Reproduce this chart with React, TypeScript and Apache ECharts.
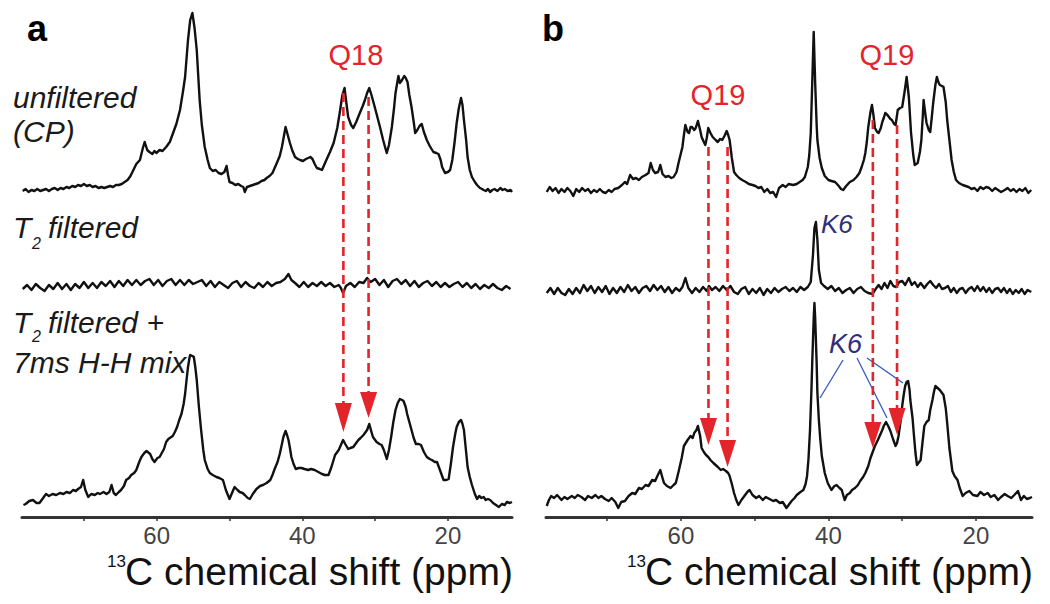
import React, { useEffect, useRef } from "react";
import * as echarts from "echarts";

type Pt = [number, number];

// x ranges (ppm) of the two panels, axis is reversed (high ppm on the left)
const xRangeA = [11.2, 78.5];
const xRangeB = [12.4, 78.3];
const majorTickValues = [20, 40, 60];
const minorTickValues = [20, 30, 40, 50, 60, 70];

// Panel a, unfiltered (CP)
const unfilteredA: Pt[] = [
  [78.4,-1],[78.0,1],[77.6,-2],[77.2,0],[76.8,-1],[76.4,1],[76.0,-1],[75.6,0],[75.2,1],[74.8,-1],[74.4,1],[74.0,2],[73.6,0],[73.2,2],[72.8,1],[72.4,3],[72.0,2],[71.6,4],[71.2,3],[70.8,5],[70.4,4],[70.0,6],[69.6,4],[69.2,5],[68.8,3],[68.4,4],[68.0,2],[67.6,3],[67.2,2],[66.8,3],[66.4,4],[66.0,3],[65.6,5],[65.2,5],[64.8,6],[64.4,8],[64.0,10],[63.6,14],[63.2,20],[62.8,26],[62.3,30],[61.9,42],[61.65,48],[61.3,40],[61.0,38],[60.6,36],[60.3,39],[60.05,37],[59.6,40],[59.2,39],[58.7,43],[58.2,48],[57.75,57],[57.3,66],[56.8,80],[56.4,98],[56.1,113],[55.7,150],[55.4,170],[55.1,177],[54.8,162],[54.5,140],[54.1,90],[53.8,65],[53.4,43],[53.0,30],[52.7,22],[52.3,19],[51.9,20],[51.5,17],[51.1,16],[50.7,18],[50.4,24],[50.2,15],[50.0,8],[49.6,7],[49.2,5],[48.8,6],[48.4,4],[48.1,3],[47.9,-2],[47.6,3],[47.2,4],[46.8,5],[46.4,6],[46.0,7],[45.6,9],[45.2,10],[44.9,12],[44.5,14],[44.1,17],[43.8,22],[43.5,27],[43.1,34],[42.8,43],[42.5,55],[42.3,63],[42.0,55],[41.7,47],[41.4,40],[41.0,33],[40.6,31],[40.3,30],[39.9,29],[39.5,31],[39.2,32],[38.9,33],[38.6,31],[38.3,26],[38.0,22],[37.6,21],[37.3,20],[37.0,25],[36.7,30],[36.2,38],[35.7,47],[35.2,62],[34.8,80],[34.5,95],[34.2,102],[34.0,90],[33.7,73],[33.3,65],[33.0,62],[32.6,68],[32.1,77],[31.7,84],[31.4,90],[31.1,97],[30.8,102],[30.5,95],[30.2,87],[29.8,76],[29.3,62],[28.9,50],[28.6,42],[28.4,37],[28.1,45],[27.7,63],[27.4,82],[27.2,97],[26.9,110],[26.8,114],[26.6,107],[26.3,110],[26.0,114],[25.8,112],[25.55,108],[25.3,95],[25.0,83],[24.7,68],[24.5,57],[24.2,60],[23.9,64],[23.6,66],[23.3,58],[22.9,50],[22.5,44],[22.0,38],[21.6,37],[21.3,36],[21.0,30],[20.8,23],[20.4,17],[20.0,18],[19.7,20],[19.4,30],[19.1,47],[18.8,67],[18.5,82],[18.2,92],[18.0,85],[17.8,70],[17.5,50],[17.3,33],[17.0,20],[16.7,13],[16.3,8],[16.0,5],[15.6,2],[15.3,1],[15.1,0],[14.8,-1],[14.5,1],[14.2,-2],[13.9,0],[13.6,1],[13.2,-1],[12.8,2],[12.5,0],[12.2,1],[11.8,-1],[11.4,0],[11.2,-2]
];

// Panel a, T2 filtered
const t2FilteredA: Pt[] = [
  [78.4,-4],[77.8,0],[77.2,-5],[76.6,1],[76.0,-3],[75.4,-6],[74.8,0],[74.2,-4],[73.6,2],[73.0,-4],[72.4,1],[71.8,-5],[71.2,1],[70.6,-3],[70.0,3],[69.4,-3],[68.8,2],[68.2,-3],[67.6,3],[67.0,-1],[66.4,4],[65.8,-2],[65.2,4],[64.6,-1],[64.0,5],[63.4,0],[62.8,5],[62.2,0],[61.6,4],[61.0,6],[60.4,0],[59.8,5],[59.2,-1],[58.6,4],[58.0,6],[57.4,0],[56.8,5],[56.2,0],[55.6,5],[55.0,1],[54.4,3],[53.8,5],[53.2,-1],[52.6,4],[52.0,-2],[51.4,3],[50.8,0],[50.2,-3],[49.6,2],[49.0,4],[48.4,-2],[47.8,3],[47.2,-1],[46.6,-3],[46.0,2],[45.4,-2],[44.8,3],[44.2,-1],[43.6,2],[43.0,3],[42.4,6],[41.9,11],[41.5,5],[41.0,2],[40.4,-2],[39.8,3],[39.2,-2],[38.6,2],[38.0,-1],[37.4,3],[36.8,-1],[36.2,2],[35.6,-2],[35.0,0],[34.7,-3],[34.4,-8],[34.0,-1],[33.4,2],[32.8,-2],[32.2,3],[31.6,2],[31.1,7],[30.6,3],[30.0,6],[29.4,0],[28.8,5],[28.2,-2],[27.6,4],[27.0,6],[26.4,1],[25.8,5],[25.2,-1],[24.6,4],[24.0,-2],[23.4,2],[22.8,4],[22.2,-1],[21.6,3],[21.0,-2],[20.4,2],[19.8,-2],[19.2,1],[18.6,3],[18.0,-2],[17.4,2],[16.8,-3],[16.2,1],[15.6,-4],[15.0,0],[14.4,-3],[13.8,1],[13.2,-3],[12.6,-5],[12.0,-1],[11.4,-4]
];

// Panel a, T2 filtered + 7 ms H-H mix
const mixA: Pt[] = [
  [78.3,-3],[78.0,-2],[77.5,1],[77.0,2],[76.5,-1],[76.1,-1],[75.6,4],[75.2,8],[74.8,6],[74.3,8],[73.8,7],[73.3,9],[72.8,8],[72.4,10],[71.9,9],[71.5,12],[71.1,11],[70.8,13],[70.4,15],[70.1,22],[69.8,12],[69.4,5],[69.0,8],[68.5,7],[68.1,9],[67.8,8],[67.3,10],[66.9,8],[66.5,10],[66.2,17],[65.9,9],[65.6,7],[65.2,10],[64.9,12],[64.5,16],[64.2,22],[63.8,24],[63.5,27],[63.1,29],[62.8,32],[62.4,40],[62.1,45],[61.7,49],[61.4,51],[60.9,48],[60.6,43],[60.3,40],[59.9,44],[59.6,45],[59.3,49],[59.0,53],[58.7,60],[58.4,63],[58.0,65],[57.8,66],[57.5,70],[57.2,75],[56.9,82],[56.6,88],[56.3,98],[56.1,108],[55.9,122],[55.7,135],[55.5,144],[55.4,147],[55.1,146],[54.9,145],[54.7,135],[54.5,122],[54.2,95],[53.9,72],[53.6,52],[53.4,42],[53.0,33],[52.7,29],[52.3,27],[51.8,25],[51.4,24],[50.9,22],[50.5,12],[50.0,3],[49.6,10],[49.3,15],[48.9,12],[48.6,10],[48.2,9],[47.9,7],[47.5,4],[47.2,3],[46.8,8],[46.3,13],[45.8,16],[45.4,17],[44.9,19],[44.4,22],[44.1,27],[43.8,33],[43.4,40],[43.1,48],[42.8,58],[42.6,65],[42.3,71],[42.1,67],[41.9,62],[41.7,54],[41.5,45],[41.2,38],[40.9,33],[40.5,34],[40.1,34],[39.7,33],[39.2,32],[38.8,33],[38.3,32],[37.8,30],[37.3,28],[36.9,27],[36.4,27],[36.0,35],[35.5,47],[35.0,52],[34.7,57],[34.4,62],[34.1,58],[33.7,53],[33.4,54],[33.0,55],[32.7,58],[32.3,62],[32.0,64],[31.6,67],[31.3,70],[31.1,72],[30.8,78],[30.5,70],[30.3,65],[30.0,62],[29.8,60],[29.4,58],[29.1,57],[28.8,52],[28.4,43],[28.1,52],[27.8,65],[27.5,80],[27.2,92],[26.9,99],[26.6,103],[26.3,102],[26.1,101],[25.8,95],[25.6,88],[25.3,80],[25.0,72],[24.7,64],[24.4,58],[24.0,58],[23.7,57],[23.3,50],[22.9,45],[22.5,43],[22.2,42],[21.8,40],[21.5,40],[21.0,30],[20.6,22],[20.2,22],[19.9,23],[19.6,38],[19.3,55],[19.0,68],[18.8,75],[18.5,80],[18.2,82],[18.0,78],[17.8,72],[17.5,50],[17.3,35],[17.0,25],[16.7,17],[16.3,8],[16.0,3],[15.7,6],[15.4,4],[15.1,5],[14.8,2],[14.5,3],[14.2,2],[13.8,-1],[13.4,-3],[13.0,-5],[12.6,-2],[12.2,-3],[11.9,0],[11.5,-1],[11.2,0]
];

// Panel b, unfiltered (CP)
const unfilteredB: Pt[] = [
  [78.2,-2],[77.8,3],[77.4,-1],[77.0,2],[76.6,-3],[76.2,1],[75.8,-2],[75.4,2],[75.0,-1],[74.6,-6],[74.2,1],[73.8,-2],[73.4,2],[73.0,-1],[72.6,1],[72.2,-3],[71.8,0],[71.4,-2],[71.0,1],[70.6,-2],[70.2,-3],[69.8,0],[69.4,-2],[69.0,1],[68.5,2],[68.0,5],[67.6,8],[67.3,6],[66.9,15],[66.5,11],[66.1,12],[65.7,10],[65.3,13],[64.8,15],[64.4,17],[64.1,27],[63.8,20],[63.5,17],[63.1,18],[62.8,25],[62.5,16],[62.1,13],[61.7,14],[61.3,12],[61.0,13],[60.6,18],[60.3,28],[59.8,43],[59.6,55],[59.4,65],[59.1,58],[58.9,57],[58.7,63],[58.5,63],[58.2,60],[58.0,62],[57.7,69],[57.4,60],[57.2,53],[56.9,48],[56.7,45],[56.5,52],[56.3,62],[56.0,57],[55.7,53],[55.3,50],[55.0,48],[54.7,51],[54.4,50],[54.1,54],[53.8,59],[53.6,55],[53.4,50],[53.1,32],[52.8,18],[52.5,15],[52.1,12],[51.7,10],[51.2,8],[50.8,6],[50.3,5],[49.9,4],[49.5,2],[49.1,3],[48.7,-2],[48.3,1],[47.9,-3],[47.5,-2],[47.1,-7],[46.7,2],[46.2,5],[45.8,3],[45.4,6],[44.8,5],[44.3,6],[43.9,8],[43.5,10],[43.2,13],[42.8,23],[42.6,35],[42.4,57],[42.2,107],[42.0,158],[41.8,107],[41.6,65],[41.5,50],[41.2,32],[40.9,22],[40.5,14],[40.0,10],[39.6,9],[39.1,8],[38.6,4],[38.3,1],[38.0,0],[37.6,4],[37.1,8],[36.6,10],[36.2,13],[35.8,17],[35.5,23],[35.2,30],[35.0,37],[34.8,48],[34.6,63],[34.3,78],[34.1,85],[33.9,75],[33.7,62],[33.4,58],[33.2,57],[32.9,62],[32.7,68],[32.5,72],[32.3,77],[32.0,75],[31.8,73],[31.6,71],[31.4,70],[31.1,66],[30.9,65],[30.6,80],[30.3,82],[30.0,83],[29.7,97],[29.4,113],[29.1,93],[28.8,57],[28.5,35],[28.3,25],[28.1,26],[27.9,27],[27.6,38],[27.4,50],[27.2,75],[27.1,90],[26.9,78],[26.7,67],[26.4,60],[26.2,58],[26.0,72],[25.8,87],[25.5,105],[25.3,113],[25.1,108],[24.9,105],[24.6,104],[24.4,103],[24.1,88],[23.9,70],[23.6,50],[23.3,30],[23.0,18],[22.7,10],[22.3,7],[21.8,5],[21.4,4],[21.0,3],[20.6,1],[20.2,2],[19.8,-1],[19.4,3],[19.0,1],[18.6,3],[18.2,2],[17.8,-1],[17.4,2],[17.0,0],[16.6,-2],[16.1,0],[15.7,2],[15.3,-1],[14.9,1],[14.5,-2],[14.1,1],[13.7,-1],[13.3,2],[12.9,-3],[12.5,0]
];

// Panel b, T2 filtered
const t2FilteredB: Pt[] = [
  [78.2,-3],[77.7,2],[77.2,-4],[76.7,2],[76.2,-3],[75.7,-5],[75.2,1],[74.7,-4],[74.2,2],[73.7,-3],[73.2,5],[72.7,-1],[72.2,4],[71.7,-3],[71.2,3],[70.7,-2],[70.2,4],[69.7,-4],[69.2,2],[68.7,-3],[68.2,3],[67.7,-2],[67.2,5],[66.7,-1],[66.2,3],[65.7,-3],[65.2,2],[64.7,4],[64.2,-1],[63.7,5],[63.2,0],[62.7,4],[62.2,-2],[61.7,3],[61.2,-3],[60.7,2],[60.2,-1],[59.8,3],[59.4,12],[59.0,2],[58.5,-3],[58.0,2],[57.5,-2],[57.0,3],[56.5,-1],[56.2,4],[55.8,0],[55.3,3],[54.8,-1],[54.3,4],[53.8,0],[53.3,4],[52.8,-2],[52.3,-4],[51.8,1],[51.3,3],[50.8,-4],[50.3,1],[49.8,-3],[49.3,2],[48.8,-5],[48.3,1],[47.8,-3],[47.3,2],[46.8,-2],[46.3,1],[45.8,3],[45.3,-1],[44.8,2],[44.3,-2],[43.8,3],[43.3,0],[42.8,3],[42.4,8],[42.1,35],[41.9,62],[41.7,68],[41.5,50],[41.3,20],[41.0,7],[40.6,4],[40.1,1],[39.6,4],[39.1,-1],[38.6,2],[38.1,-3],[37.6,0],[37.1,2],[36.6,-3],[36.1,1],[35.6,3],[35.1,-1],[34.6,-3],[34.0,-4],[33.6,1],[33.2,5],[32.8,1],[32.4,7],[32.0,2],[31.6,9],[31.2,4],[30.8,3],[30.4,8],[30.0,9],[29.6,5],[29.1,12],[28.7,5],[28.3,8],[27.9,3],[27.5,7],[27.0,2],[26.6,6],[26.2,9],[25.8,5],[25.4,2],[25.0,6],[24.6,1],[24.2,2],[23.8,4],[23.4,-2],[23.0,2],[22.6,-3],[22.2,1],[21.8,2],[21.4,-3],[21.0,1],[20.6,3],[20.2,-1],[19.8,4],[19.4,-1],[19.0,3],[18.6,-2],[18.2,2],[17.8,-3],[17.4,1],[17.0,2],[16.6,-2],[16.2,2],[15.8,-3],[15.4,1],[15.0,-4],[14.6,0],[14.2,-3],[13.8,1],[13.4,-4],[13.0,0],[12.5,-2]
];

// Panel b, T2 filtered + 7 ms H-H mix
const mixB: Pt[] = [
  [78.2,-8],[77.9,-2],[77.6,2],[77.2,0],[76.8,3],[76.2,-2],[75.8,1],[75.4,-1],[74.8,2],[74.4,0],[74.0,3],[73.5,1],[73.0,-2],[72.6,2],[72.1,0],[71.6,3],[71.2,0],[70.8,2],[70.3,-1],[69.8,-3],[69.4,0],[68.9,-4],[68.5,-10],[68.1,-4],[67.6,-3],[67.1,2],[66.6,5],[66.2,4],[65.7,10],[65.3,9],[64.8,13],[64.4,12],[63.9,18],[63.5,17],[63.2,22],[62.8,28],[62.5,20],[62.3,15],[61.9,12],[61.4,10],[61.0,13],[60.7,15],[60.3,27],[59.9,40],[59.6,52],[59.1,58],[58.7,62],[58.4,60],[58.2,65],[57.9,68],[57.7,72],[57.4,62],[57.2,50],[56.9,46],[56.6,43],[56.3,41],[56.0,38],[55.6,35],[55.3,33],[55.0,31],[54.6,28],[54.3,29],[53.9,27],[53.6,25],[53.4,22],[53.1,14],[52.8,5],[52.5,-2],[52.2,-7],[51.8,-2],[51.4,2],[51.0,6],[50.7,8],[50.3,3],[49.8,0],[49.4,2],[48.9,-2],[48.5,1],[48.0,-1],[47.5,-3],[47.1,-2],[46.6,-5],[46.2,-4],[45.7,-10],[45.3,-6],[45.0,-3],[44.6,0],[44.3,3],[43.8,6],[43.4,8],[43.1,14],[42.9,22],[42.7,40],[42.5,68],[42.3,110],[42.2,135],[42.0,180],[41.9,195],[41.8,180],[41.6,135],[41.5,105],[41.3,78],[41.1,58],[40.9,42],[40.5,25],[40.1,15],[39.6,8],[39.2,12],[38.9,13],[38.5,10],[38.2,8],[37.8,-2],[37.5,3],[37.1,5],[36.8,8],[36.4,10],[36.0,13],[35.7,17],[35.3,21],[35.0,25],[34.6,32],[34.3,40],[34.0,46],[33.7,52],[33.3,58],[33.0,63],[32.7,68],[32.5,72],[32.2,76],[31.9,72],[31.6,67],[31.2,58],[30.9,52],[30.7,55],[30.5,62],[30.2,78],[30.0,92],[29.8,103],[29.6,112],[29.4,116],[29.2,117],[29.0,108],[28.9,98],[28.6,80],[28.4,62],[28.2,45],[28.0,33],[27.8,35],[27.5,38],[27.3,52],[27.0,72],[26.7,76],[26.4,78],[26.2,88],[25.9,98],[25.7,106],[25.5,112],[25.2,110],[24.9,108],[24.6,105],[24.4,103],[24.1,90],[23.9,75],[23.6,50],[23.2,27],[22.9,22],[22.5,18],[22.2,10],[21.8,2],[21.4,5],[20.9,7],[20.4,3],[19.8,2],[19.4,6],[18.9,3],[18.4,5],[18.0,1],[17.5,3],[17.0,-2],[16.6,1],[16.1,4],[15.7,2],[15.2,0],[14.8,3],[14.3,7],[13.9,-2],[13.5,2],[13.1,-1],[12.7,0],[12.4,1]
];

// annotated chemical shifts (ppm)
const q18Shifts = [34.36, 30.9];
const q19Shifts = [56.27, 53.68, 33.98, 30.7];

const RED = "#e3242b";
const NAVY = "#2e2f7c";
const BLUE = "#3656bd";
const FONT = '"Liberation Sans", Arial, Helvetica, sans-serif';

// layout of the six traces (pixels); 1 intensity unit = 1 px
const traceLayout = [
  { data: unfilteredA, range: xRangeA, left: 22, right: 538, top: 10, height: 200, yMin: -20, axis: false },
  { data: t2FilteredA, range: xRangeA, left: 22, right: 538, top: 255, height: 50, yMin: -20, axis: false },
  { data: mixA, range: xRangeA, left: 22, right: 538, top: 345, height: 172, yMin: -15, axis: true },
  { data: unfilteredB, range: xRangeB, left: 546, right: 18, top: 20, height: 190, yMin: -20, axis: false },
  { data: t2FilteredB, range: xRangeB, left: 546, right: 18, top: 210, height: 100, yMin: -20, axis: false },
  { data: mixB, range: xRangeB, left: 546, right: 18, top: 295, height: 222, yMin: -19, axis: true },
];

// arrow layout: y start of dashed line, arrowhead top, arrowhead tip
const q18ArrowLayout = [
  { y0: 93, top: 403, tip: 432 },
  { y0: 97, top: 392, tip: 418 },
];
const q19ArrowLayout = [
  { y0: 147, top: 418, tip: 445 },
  { y0: 147, top: 440, tip: 467 },
  { y0: 120, top: 422, tip: 448 },
  { y0: 125, top: 408, tip: 435 },
];

function txt(text: string, x: number, y: number, size: number, opts: any = {}) {
  return {
    type: "text",
    z: 20,
    silent: true,
    style: {
      text,
      x,
      y,
      fill: opts.fill || "#1a1a1a",
      fontSize: size,
      fontFamily: FONT,
      fontStyle: opts.italic ? "italic" : "normal",
      fontWeight: opts.bold ? "bold" : "normal",
      align: opts.align || "left",
      verticalAlign: "middle",
    },
  };
}

export default function App() {
  const ref = useRef<HTMLDivElement>(null);
  useEffect(() => {
    const el = ref.current;
    if (!el) return;
    const chart = echarts.init(el, null, { renderer: "svg" });
    const grids: any[] = [];
    const xAxes: any[] = [];
    const yAxes: any[] = [];
    const series: any[] = [];
    traceLayout.forEach((t, i) => {
      grids.push({ left: t.left, right: t.right, top: t.top, height: t.height });
      xAxes.push({
        type: "value",
        gridIndex: i,
        min: t.range[0],
        max: t.range[1],
        inverse: true,
        show: t.axis,
        splitLine: { show: false },
        axisLine: { show: true, onZero: false, lineStyle: { color: "#333", width: 3 } },
        axisTick: {
          show: true,
          customValues: minorTickValues,
          length: 4,
          lineStyle: { color: "#333", width: 1.5 },
        },
        axisLabel: {
          show: true,
          customValues: majorTickValues,
          fontSize: 24,
          color: "#444",
          fontFamily: FONT,
          margin: 6,
        },
      });
      yAxes.push({ type: "value", gridIndex: i, min: t.yMin, max: t.yMin + t.height, show: false, splitLine: { show: false } });
      series.push({
        type: "line",
        xAxisIndex: i,
        yAxisIndex: i,
        data: t.data,
        showSymbol: false,
        symbol: "none",
        silent: true,
        lineStyle: { color: "#111", width: 2.4, join: "round" },
        z: 3,
      });
    });
    chart.setOption({ animation: false, backgroundColor: "#fff", grid: grids, xAxis: xAxes, yAxis: yAxes, series });

    const toX = (axis: number, ppm: number) => chart.convertToPixel({ xAxisIndex: axis } as any, ppm) as unknown as number;
    const g: any[] = [];
    const arrow = (x: number, a: { y0: number; top: number; tip: number }) => {
      g.push({
        type: "line",
        z: 15,
        silent: true,
        shape: { x1: x, y1: a.y0, x2: x, y2: a.top },
        style: { stroke: RED, lineWidth: 2.6, lineDash: [9, 5] },
      });
      g.push({
        type: "polygon",
        z: 15,
        silent: true,
        shape: { points: [[x - 8.5, a.top], [x + 8.5, a.top], [x, a.tip]] },
        style: { fill: RED },
      });
    };
    const q18X = q18Shifts.map((p) => toX(2, p));
    q18X.forEach((x, i) => arrow(x, q18ArrowLayout[i]));
    const q19X = q19Shifts.map((p) => toX(5, p));
    q19X.forEach((x, i) => arrow(x, q19ArrowLayout[i]));

    g.push(txt("Q18", (q18X[0] + q18X[1]) / 2, 55, 29, { fill: RED, align: "center" }));
    g.push(txt("Q19", (q19X[0] + q19X[1]) / 2, 95, 29, { fill: RED, align: "center" }));
    g.push(txt("Q19", (q19X[2] + q19X[3]) / 2 + 2, 55, 29, { fill: RED, align: "center" }));

    // panel letters
    g.push(txt("a", 27, 28.5, 36, { bold: true, fill: "#000" }));
    g.push(txt("b", 542, 28.5, 36, { bold: true, fill: "#000" }));

    // trace labels
    g.push(txt("unfiltered", 13, 97.5, 30, { italic: true }));
    g.push(txt("(CP)", 13, 131.5, 30, { italic: true }));
    g.push(txt("T", 13, 227.5, 30, { italic: true }));
    g.push(txt("2", 32, 243, 16, { italic: true }));
    g.push(txt("filtered", 48, 227.5, 30, { italic: true }));
    g.push(txt("T", 13, 322.5, 30, { italic: true }));
    g.push(txt("2", 32, 336, 16, { italic: true }));
    g.push(txt("filtered +", 48, 322.5, 30, { italic: true }));
    g.push(txt("7ms H-H mix", 13, 362, 30, { italic: true }));

    // K6 labels and leader lines
    g.push(txt("K6", 821, 224, 26, { italic: true, fill: NAVY }));
    g.push(txt("K6", 829, 344, 27, { italic: true, fill: NAVY }));
    const leaders = [
      [843, 360, 820, 398],
      [857, 358, 887, 418],
      [867, 358, 903, 383],
    ];
    leaders.forEach((l) =>
      g.push({
        type: "line",
        z: 14,
        silent: true,
        shape: { x1: l[0], y1: l[1], x2: l[2], y2: l[3] },
        style: { stroke: BLUE, lineWidth: 1.3 },
      })
    );

    // axis titles
    g.push(txt("13", 107, 561, 17, { fill: "#111" }));
    g.push(txt("C chemical shift (ppm)", 125, 571, 39, { fill: "#111" }));
    g.push(txt("13", 627, 561, 17, { fill: "#111" }));
    g.push(txt("C chemical shift (ppm)", 645, 571, 39, { fill: "#111" }));

    chart.setOption({ graphic: { elements: g } });
    return () => chart.dispose();
  }, []);
  return (
    <div
      ref={ref}
      style={{ position: "fixed", left: 0, top: 0, width: 1050, height: 604, background: "#fff" }}
    />
  );
}
